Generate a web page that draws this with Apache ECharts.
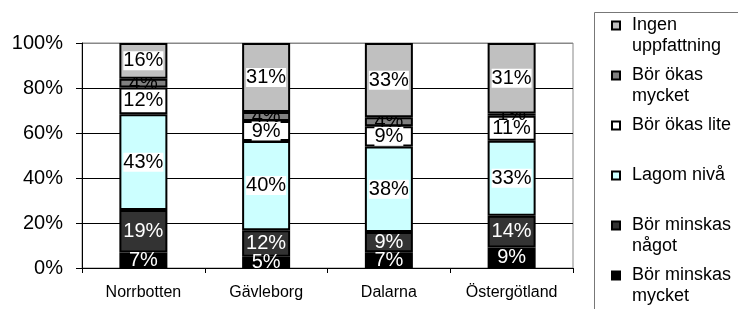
<!DOCTYPE html>
<html>
<head>
<meta charset="utf-8">
<script src="https://cdn.jsdelivr.net/npm/echarts@6/dist/echarts.min.js"></script>
<style>
html, body { margin: 0; padding: 0; background: #fff; }
#chart { width: 738px; height: 309px; }
</style>
</head>
<body>
<div id="chart"></div>
<script>
// data (percent labels as shown)
const regions = ['Norrbotten', 'Gävleborg', 'Dalarna', 'Östergötland']
const minskasMycket = [7, 5, 7, 9]
const minskasNagot = [19, 12, 9, 14]
const lagomNiva = [43, 40, 38, 33]
const okasLite = [12, 9, 9, 11]
const okasMycket = [4, 4, 4, 1]
const ingenUppfattning = [16, 31, 33, 31]
const yTicks = [0, 20, 40, 60, 80, 100]

const FONT = "'Liberation Sans', Arial, sans-serif"

// stack order bottom -> top
const stack = [
    {name: 'Bör minskas mycket', values: minskasMycket, color: '#000000', text: '#fff', bg: null, z: 1, legend: 'Bör minskas\nmycket'},
    {name: 'Bör minskas något', values: minskasNagot, color: '#333333', text: '#fff', bg: null, z: 1, legend: 'Bör minskas\nnågot'},
    {name: 'Lagom nivå', values: lagomNiva, color: '#CCFFFF', text: '#000', bg: '#fff', z: 1, legend: 'Lagom nivå'},
    {name: 'Bör ökas lite', values: okasLite, color: '#FFFFFF', text: '#000', bg: '#fff', z: 1, legend: 'Bör ökas lite'},
    {name: 'Bör ökas mycket', values: okasMycket, color: '#808080', text: '#000', bg: null, z: 2, legend: 'Bör ökas\nmycket'},
    {name: 'Ingen uppfattning', values: ingenUppfattning, color: '#C0C0C0', text: '#000', bg: '#fff', z: 3, legend: 'Ingen\nuppfattning'}
]

// 100% stacked: each column is scaled to its own total
const totals = regions.map((r, i) => stack.reduce((s, it) => s + it.values[i], 0))

const series = stack.map(it => ({
    name: it.name,
    type: 'bar',
    stack: 'all',
    barWidth: 48,
    z: it.z,
    data: it.values.map((v, i) => v / totals[i] * 100),
    itemStyle: {color: it.color, borderColor: '#000', borderWidth: 2},
    label: {
        show: true,
        position: 'inside',
        formatter: p => it.values[p.dataIndex] + '%',
        color: it.text,
        fontFamily: FONT,
        fontSize: 20,
        lineHeight: 19,
        backgroundColor: it.bg || 'transparent',
        padding: 0
    }
}))

// legend, top item first, one legend per entry so each sits where Excel put it.
// two-line names get a blank first line so the square lines up with the first text line
const legendStep = 50
const legends = stack.slice().reverse().map((it, k) => {
    const twoLines = it.legend.indexOf('\n') >= 0
    const iconCenter = 25.5 + k * legendStep
    return {
        data: [{name: it.name, icon: 'rect'}],
        orient: 'vertical',
        left: 611,
        top: iconCenter - (twoLines ? 31.5 : 10.5),
        padding: 0,
        itemWidth: 8,
        itemHeight: 8,
        selectedMode: false,
        formatter: () => (twoLines ? ' \n' : '') + it.legend,
        textStyle: {
            fontFamily: FONT,
            fontSize: 18,
            lineHeight: 21,
            color: '#000',
            padding: [0, 0, 0, 7]
        }
    }
})

const chart = echarts.init(document.getElementById('chart'), null, {renderer: 'canvas'})
chart.setOption({
    animation: false,
    backgroundColor: '#fff',
    grid: {left: 82, right: 165, top: 43, bottom: 41, show: true, borderColor: '#888', borderWidth: 1},
    legend: legends,
    xAxis: {
        type: 'category',
        data: regions,
        axisLine: {lineStyle: {color: '#000', width: 1}},
        axisTick: {show: true, length: 5, lineStyle: {color: '#000'}},
        axisLabel: {fontFamily: FONT, fontSize: 16, color: '#000', margin: 17}
    },
    yAxis: {
        type: 'value',
        min: yTicks[0],
        max: yTicks[yTicks.length - 1],
        interval: yTicks[1] - yTicks[0],
        axisLine: {show: true, lineStyle: {color: '#000', width: 1}},
        axisTick: {show: true, length: 6, lineStyle: {color: '#000'}},
        axisLabel: {fontFamily: FONT, fontSize: 20, color: '#000', margin: 19, formatter: '{value}%'},
        splitLine: {show: true, lineStyle: {color: yTicks.map((t, i) => i === yTicks.length - 1 ? '#888' : '#000'), width: 1}}
    },
    graphic: [{
        type: 'rect',
        shape: {x: 594.5, y: 12.5, width: 200, height: 400},
        style: {fill: 'none', stroke: '#777', lineWidth: 1},
        silent: true,
        z: -1
    }],
    series: series
})
</script>
</body>
</html>
